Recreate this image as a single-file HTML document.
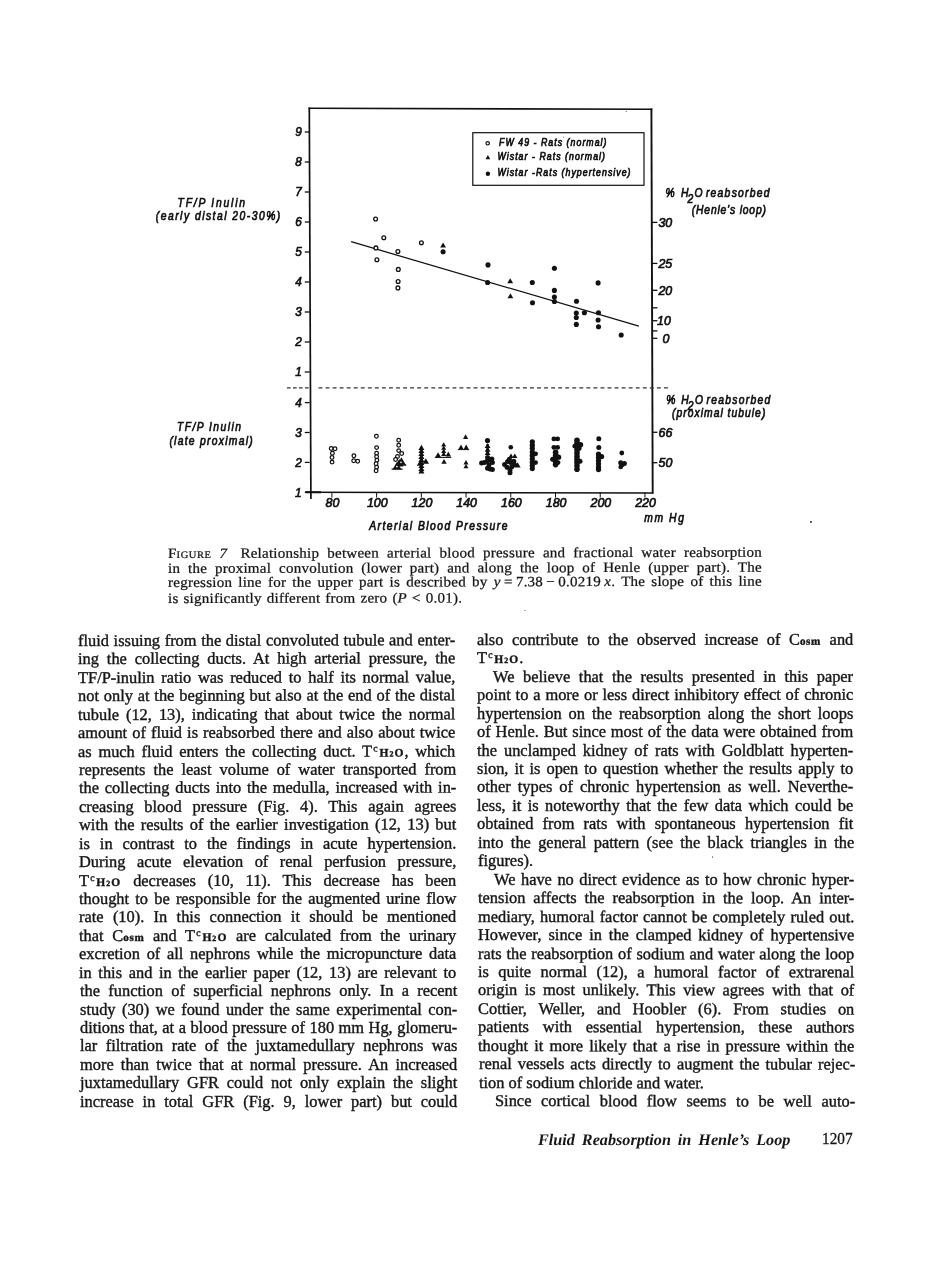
<!DOCTYPE html>
<html lang="en"><head><meta charset="utf-8"><title>Fluid Reabsorption in Henle’s Loop – page 1207</title>
<style>
html,body{margin:0;padding:0;background:#fff;}
body{width:936px;height:1261px;position:relative;overflow:hidden;color:#161616;font-family:"Liberation Serif",serif;}
#pg{position:absolute;left:0;top:0;width:936px;height:1261px;}
#tx{position:absolute;left:0;top:0;width:936px;height:1261px;}
.l{position:absolute;white-space:nowrap;line-height:0;height:0;transform-origin:0 0;}
.l::before{content:"";display:inline-block;height:0;}
.b{font-size:16.4px;-webkit-text-stroke:0.38px #161616;}
.c{font-size:14.2px;-webkit-text-stroke:0.25px #161616;letter-spacing:0.22px;transform-origin:0 0;}
.f{font-size:16.2px;font-style:italic;font-weight:bold;}
.n{font-size:16.6px;-webkit-text-stroke:0.3px #161616;transform-origin:0 0;}
.su{font-size:0.6em;position:relative;top:-0.52em;margin:0 0.18em 0 0.12em;}
.sc{font-size:0.7em;font-weight:bold;letter-spacing:0.09em;}
.tw{font-size:0.7em;}
.os{font-size:0.68em;font-weight:bold;letter-spacing:0.06em;}
.gp{display:inline-block;width:12.5px;}
.fs{font-size:0.7em;letter-spacing:0.05em;}
.sp{position:absolute;width:1.3px;height:1.3px;border-radius:50%;background:#444;}
.ft text{stroke-width:0.7px;}
</style></head>
<body><div id="pg">
<svg width="936" height="620" viewBox="0 0 936 620" style="position:absolute;left:0;top:0" fill="#111" stroke="#111" font-family="Liberation Sans, sans-serif" font-style="italic">
<g class="ft">
<text transform="translate(301.8 376.3) scale(0.92 1)" font-size="12.8" text-anchor="end" >1</text>
<text transform="translate(301.8 346.3) scale(0.92 1)" font-size="12.8" text-anchor="end" >2</text>
<text transform="translate(301.8 316.3) scale(0.92 1)" font-size="12.8" text-anchor="end" >3</text>
<text transform="translate(301.8 286.3) scale(0.92 1)" font-size="12.8" text-anchor="end" >4</text>
<text transform="translate(301.8 256.3) scale(0.92 1)" font-size="12.8" text-anchor="end" >5</text>
<text transform="translate(301.8 226.3) scale(0.92 1)" font-size="12.8" text-anchor="end" >6</text>
<text transform="translate(301.8 196.3) scale(0.92 1)" font-size="12.8" text-anchor="end" >7</text>
<text transform="translate(301.8 166.3) scale(0.92 1)" font-size="12.8" text-anchor="end" >8</text>
<text transform="translate(301.8 136.3) scale(0.92 1)" font-size="12.8" text-anchor="end" >9</text>
<text transform="translate(301.8 466.70000000000005) scale(0.92 1)" font-size="12.8" text-anchor="end" >2</text>
<text transform="translate(301.8 436.8) scale(0.92 1)" font-size="12.8" text-anchor="end" >3</text>
<text transform="translate(301.8 406.90000000000003) scale(0.92 1)" font-size="12.8" text-anchor="end" >4</text>
<text transform="translate(301.5 496.6) scale(0.92 1)" font-size="12.8" text-anchor="end" >1</text>
<text transform="translate(332.5 507.2) scale(0.97 1)" font-size="12.8" text-anchor="middle" >80</text>
<text transform="translate(377.22 507.2) scale(0.97 1)" font-size="12.8" text-anchor="middle" >100</text>
<text transform="translate(421.94 507.2) scale(0.97 1)" font-size="12.8" text-anchor="middle" >120</text>
<text transform="translate(466.65999999999997 507.2) scale(0.97 1)" font-size="12.8" text-anchor="middle" >140</text>
<text transform="translate(511.38 507.2) scale(0.97 1)" font-size="12.8" text-anchor="middle" >160</text>
<text transform="translate(556.1 507.2) scale(0.97 1)" font-size="12.8" text-anchor="middle" >180</text>
<text transform="translate(600.82 507.2) scale(0.97 1)" font-size="12.8" text-anchor="middle" >200</text>
<text transform="translate(645.54 507.2) scale(0.97 1)" font-size="12.8" text-anchor="middle" >220</text>
<text transform="translate(658.4 226.70000000000002) scale(0.97 1)" font-size="12.8" >30</text>
<text transform="translate(658.4 267.7) scale(0.97 1)" font-size="12.8" >25</text>
<text transform="translate(658.4 294.6) scale(0.97 1)" font-size="12.8" >20</text>
<text transform="translate(657.0 325.0) scale(0.97 1)" font-size="12.8" >10</text>
<text transform="translate(662.6 342.6) scale(0.97 1)" font-size="12.8" >0</text>
<text transform="translate(658.6 436.6) scale(0.97 1)" font-size="12.8" >66</text>
<text transform="translate(658.6 467.0) scale(0.97 1)" font-size="12.8" >50</text>
<text transform="translate(177.6 206.5) scale(0.86 1)" font-size="12" textLength="78.4" lengthAdjust="spacing" >TF/P Inulin</text>
<text transform="translate(155.8 219.8) scale(0.86 1)" font-size="12" textLength="144.8" lengthAdjust="spacing" >(early distal 20-30%)</text>
<text transform="translate(177.1 431.2) scale(0.86 1)" font-size="12" textLength="74.2" lengthAdjust="spacing" >TF/P Inulin</text>
<text transform="translate(169.4 445.4) scale(0.86 1)" font-size="12" textLength="96.9" lengthAdjust="spacing" >(late proximal)</text>
<text transform="translate(665.4 196.9) scale(0.86 1)" font-size="12" textLength="14.0" lengthAdjust="spacing" >%</text>
<text transform="translate(680.9 196.9) scale(0.86 1)" font-size="12" >H</text>
<text transform="translate(687.4 203.4) scale(0.86 1)" font-size="12" >2</text>
<text transform="translate(694.6 196.9) scale(0.86 1)" font-size="12" >O</text>
<text transform="translate(705.9 196.9) scale(0.86 1)" font-size="12" textLength="74.0" lengthAdjust="spacing" >reabsorbed</text>
<text transform="translate(691.8 214.1) scale(0.86 1)" font-size="12" textLength="86.2" lengthAdjust="spacing" >(Henle’s loop)</text>
<text transform="translate(666.3 404.0) scale(0.86 1)" font-size="12" textLength="14.0" lengthAdjust="spacing" >%</text>
<text transform="translate(681.2 404.0) scale(0.86 1)" font-size="12" >H</text>
<text transform="translate(687.8 410.2) scale(0.86 1)" font-size="12" >2</text>
<text transform="translate(695.0 404.0) scale(0.86 1)" font-size="12" >O</text>
<text transform="translate(706.6 404.0) scale(0.86 1)" font-size="12" textLength="74.0" lengthAdjust="spacing" >reabsorbed</text>
<text transform="translate(672.1 416.7) scale(0.86 1)" font-size="12" textLength="108.4" lengthAdjust="spacing" >(proximal tubule)</text>
<text transform="translate(644.2 521.6) scale(0.86 1)" font-size="12" textLength="46.2" lengthAdjust="spacing" >mm Hg</text>
<text transform="translate(369.2 530.4) scale(0.86 1)" font-size="12" textLength="160.8" lengthAdjust="spacing" >Arterial Blood Pressure</text>
<text transform="translate(499.1 146.3) scale(0.86 1)" font-size="10.2" textLength="124.9" lengthAdjust="spacing" >FW 49 - Rats (normal)</text>
<text transform="translate(497.5 159.9) scale(0.86 1)" font-size="10.2" textLength="125.0" lengthAdjust="spacing" >Wistar - Rats (normal)</text>
<text transform="translate(497.5 175.8) scale(0.86 1)" font-size="10.2" textLength="154.7" lengthAdjust="spacing" >Wistar -Rats (hypertensive)</text>
</g>
<line x1="309.3" y1="107.5" x2="310.9" y2="499" stroke-width="1.7" />
<line x1="651.4" y1="108.4" x2="652.7" y2="493.6" stroke-width="1.9" />
<line x1="308.5" y1="108.3" x2="652.3" y2="109.3" stroke-width="1.6" />
<line x1="305.5" y1="492.3" x2="653.4" y2="493.1" stroke-width="1.5" />
<line x1="305.5" y1="492.3" x2="321" y2="492.35" stroke-width="2.0" />
<line x1="287" y1="387.8" x2="310.5" y2="387.8" stroke-width="1.2" stroke-dasharray="3.6 2.4" stroke="#333"/>
<line x1="318.5" y1="387.9" x2="668" y2="387.9" stroke-width="1.3" stroke-dasharray="3.9 3.15" stroke="#333"/>
<line x1="304.8" y1="372" x2="309.6" y2="372" stroke-width="1.3" />
<line x1="304.8" y1="342" x2="309.6" y2="342" stroke-width="1.3" />
<line x1="304.8" y1="312" x2="309.6" y2="312" stroke-width="1.3" />
<line x1="304.8" y1="282" x2="309.6" y2="282" stroke-width="1.3" />
<line x1="304.8" y1="252" x2="309.6" y2="252" stroke-width="1.3" />
<line x1="304.8" y1="222" x2="309.6" y2="222" stroke-width="1.3" />
<line x1="304.8" y1="192" x2="309.6" y2="192" stroke-width="1.3" />
<line x1="304.8" y1="162" x2="309.6" y2="162" stroke-width="1.3" />
<line x1="304.8" y1="132" x2="309.6" y2="132" stroke-width="1.3" />
<line x1="304.8" y1="492.3" x2="309.6" y2="492.3" stroke-width="1.3" />
<line x1="304.8" y1="462.40000000000003" x2="309.6" y2="462.40000000000003" stroke-width="1.3" />
<line x1="304.8" y1="432.5" x2="309.6" y2="432.5" stroke-width="1.3" />
<line x1="304.8" y1="402.6" x2="309.6" y2="402.6" stroke-width="1.3" />
<line x1="331.9" y1="492.4" x2="331.9" y2="497.6" stroke-width="1.0" />
<line x1="376.62" y1="492.4" x2="376.62" y2="497.6" stroke-width="1.0" />
<line x1="421.34" y1="492.4" x2="421.34" y2="497.6" stroke-width="1.0" />
<line x1="466.05999999999995" y1="492.4" x2="466.05999999999995" y2="497.6" stroke-width="1.0" />
<line x1="510.78" y1="492.4" x2="510.78" y2="497.6" stroke-width="1.0" />
<line x1="555.5" y1="492.4" x2="555.5" y2="497.6" stroke-width="1.0" />
<line x1="600.22" y1="492.4" x2="600.22" y2="497.6" stroke-width="1.0" />
<line x1="644.9399999999999" y1="492.4" x2="644.9399999999999" y2="497.6" stroke-width="1.0" />
<line x1="651.9" y1="222.4" x2="657.4" y2="222.4" stroke-width="1.3" />
<line x1="651.9" y1="263.4" x2="657.4" y2="263.4" stroke-width="1.3" />
<line x1="651.9" y1="290.3" x2="657.4" y2="290.3" stroke-width="1.3" />
<line x1="651.9" y1="307.8" x2="657.4" y2="307.8" stroke-width="1.3" />
<line x1="651.9" y1="320.7" x2="657.4" y2="320.7" stroke-width="1.3" />
<line x1="651.9" y1="330.9" x2="657.4" y2="330.9" stroke-width="1.3" />
<line x1="651.9" y1="338.3" x2="657.4" y2="338.3" stroke-width="1.3" />
<line x1="651.9" y1="432.3" x2="657.4" y2="432.3" stroke-width="1.3" />
<line x1="651.9" y1="462.7" x2="657.4" y2="462.7" stroke-width="1.3" />
<rect x="472.8" y="132.7" width="171.2" height="52.6" fill="none" stroke-width="1.2"/>
<circle cx="487.7" cy="143.3" r="1.7" fill="#fff" stroke-width="1.2"/>
<path d="M485.5 159.2L490.3 159.2L487.9 155.0Z" stroke="none"/>
<circle cx="487.9" cy="173.7" r="2.2" stroke="none"/>
<line x1="351.1" y1="241.7" x2="638.9" y2="326.1" stroke-width="1.25" />
<circle cx="375.6" cy="219.0" r="1.9" fill="#fff" stroke-width="1.3"/>
<circle cx="383.8" cy="237.8" r="1.9" fill="#fff" stroke-width="1.3"/>
<circle cx="375.9" cy="247.9" r="1.9" fill="#fff" stroke-width="1.3"/>
<circle cx="376.9" cy="259.8" r="1.9" fill="#fff" stroke-width="1.3"/>
<circle cx="397.9" cy="251.5" r="1.9" fill="#fff" stroke-width="1.3"/>
<circle cx="398.3" cy="269.4" r="1.9" fill="#fff" stroke-width="1.3"/>
<circle cx="398.1" cy="281.5" r="1.9" fill="#fff" stroke-width="1.3"/>
<circle cx="397.9" cy="287.9" r="1.9" fill="#fff" stroke-width="1.3"/>
<circle cx="421.4" cy="242.7" r="1.9" fill="#fff" stroke-width="1.3"/>
<path d="M440.2 247.6L446.0 247.6L443.1 242.5Z" stroke="none"/>
<path d="M507.3 283.3L513.1 283.3L510.2 278.2Z" stroke="none"/>
<path d="M507.5 298.3L513.3 298.3L510.4 293.2Z" stroke="none"/>
<circle cx="443.1" cy="251.8" r="2.55" stroke="none"/>
<circle cx="488.0" cy="264.9" r="2.55" stroke="none"/>
<circle cx="487.6" cy="282.5" r="2.55" stroke="none"/>
<circle cx="532.3" cy="282.5" r="2.55" stroke="none"/>
<circle cx="532.5" cy="302.7" r="2.55" stroke="none"/>
<circle cx="554.4" cy="268.3" r="2.55" stroke="none"/>
<circle cx="554.4" cy="290.4" r="2.55" stroke="none"/>
<circle cx="554.4" cy="297.1" r="2.55" stroke="none"/>
<circle cx="554.4" cy="301.5" r="2.55" stroke="none"/>
<circle cx="576.5" cy="301.3" r="2.55" stroke="none"/>
<circle cx="576.3" cy="313.1" r="2.55" stroke="none"/>
<circle cx="576.3" cy="317.5" r="2.55" stroke="none"/>
<circle cx="576.3" cy="324.4" r="2.55" stroke="none"/>
<circle cx="584.4" cy="312.7" r="2.55" stroke="none"/>
<circle cx="598.1" cy="282.9" r="2.55" stroke="none"/>
<circle cx="598.5" cy="312.7" r="2.55" stroke="none"/>
<circle cx="598.1" cy="320.0" r="2.55" stroke="none"/>
<circle cx="598.5" cy="326.7" r="2.55" stroke="none"/>
<circle cx="621.2" cy="335.0" r="2.55" stroke="none"/>
<circle cx="331.2" cy="448.5" r="1.85" fill="#fff" stroke-width="1.25"/>
<circle cx="335.0" cy="448.7" r="1.85" fill="#fff" stroke-width="1.25"/>
<circle cx="332.4" cy="453.3" r="1.85" fill="#fff" stroke-width="1.25"/>
<circle cx="332.0" cy="457.4" r="1.85" fill="#fff" stroke-width="1.25"/>
<circle cx="332.1" cy="462.1" r="1.85" fill="#fff" stroke-width="1.25"/>
<circle cx="353.9" cy="455.7" r="1.85" fill="#fff" stroke-width="1.25"/>
<circle cx="353.7" cy="460.8" r="1.85" fill="#fff" stroke-width="1.25"/>
<circle cx="357.7" cy="461.3" r="1.85" fill="#fff" stroke-width="1.25"/>
<circle cx="376.4" cy="436.3" r="1.85" fill="#fff" stroke-width="1.25"/>
<circle cx="376.6" cy="447.6" r="1.85" fill="#fff" stroke-width="1.25"/>
<circle cx="376.6" cy="453.3" r="1.85" fill="#fff" stroke-width="1.25"/>
<circle cx="376.6" cy="456.7" r="1.85" fill="#fff" stroke-width="1.25"/>
<circle cx="376.9" cy="460.3" r="1.85" fill="#fff" stroke-width="1.25"/>
<circle cx="376.1" cy="463.7" r="1.85" fill="#fff" stroke-width="1.25"/>
<circle cx="376.6" cy="467.2" r="1.85" fill="#fff" stroke-width="1.25"/>
<circle cx="376.1" cy="470.7" r="1.85" fill="#fff" stroke-width="1.25"/>
<circle cx="398.7" cy="440.3" r="1.85" fill="#fff" stroke-width="1.25"/>
<circle cx="398.7" cy="445.3" r="1.85" fill="#fff" stroke-width="1.25"/>
<circle cx="398.7" cy="450.6" r="1.85" fill="#fff" stroke-width="1.25"/>
<circle cx="401.7" cy="453.5" r="1.85" fill="#fff" stroke-width="1.25"/>
<circle cx="397.5" cy="456.5" r="1.85" fill="#fff" stroke-width="1.25"/>
<circle cx="395.6" cy="459.5" r="1.85" fill="#fff" stroke-width="1.25"/>
<path d="M397.1 464.8L405.7 464.8L401.4 457.3Z" stroke="none"/>
<path d="M392.7 469.3L401.3 469.3L397.0 461.8Z" stroke="none"/>
<path d="M394.9 466.4L403.5 466.4L399.2 458.9Z" stroke="none"/>
<path d="M391.6 469.2H402.6M396.4 465.0H406.2" stroke-width="1.3"/>
<circle cx="401.0" cy="462.3" r="0.85" fill="#fff" stroke="none"/>
<circle cx="396.9" cy="466.6" r="0.85" fill="#fff" stroke="none"/>
<path d="M418.4 450.0L424.4 450.0L421.4 444.8Z" stroke="none"/>
<path d="M418.4 453.0L424.4 453.0L421.4 447.8Z" stroke="none"/>
<path d="M418.4 456.0L424.4 456.0L421.4 450.8Z" stroke="none"/>
<path d="M418.4 459.0L424.4 459.0L421.4 453.8Z" stroke="none"/>
<path d="M418.4 462.0L424.4 462.0L421.4 456.8Z" stroke="none"/>
<path d="M418.4 465.0L424.4 465.0L421.4 459.8Z" stroke="none"/>
<path d="M418.4 468.0L424.4 468.0L421.4 462.8Z" stroke="none"/>
<path d="M418.4 471.0L424.4 471.0L421.4 465.8Z" stroke="none"/>
<path d="M418.4 473.4L424.4 473.4L421.4 468.1Z" stroke="none"/>
<path d="M422.6 463.8L429.0 463.8L425.8 458.2Z" stroke="none"/>
<path d="M416.8 465.8L422.4 465.8L419.6 460.9Z" stroke="none"/>
<path d="M441.2 446.6L446.2 446.6L443.7 442.2Z" stroke="none"/>
<path d="M441.2 449.8L446.2 449.8L443.7 445.4Z" stroke="none"/>
<path d="M441.2 453.0L446.2 453.0L443.7 448.6Z" stroke="none"/>
<path d="M441.2 456.0L446.2 456.0L443.7 451.6Z" stroke="none"/>
<path d="M435.2 457.3L441.0 457.3L438.1 452.2Z" stroke="none"/>
<path d="M445.6 456.4L451.0 456.4L448.3 451.6Z" stroke="none"/>
<path d="M441.3 463.8L446.7 463.8L444.0 459.0Z" stroke="none"/>
<path d="M434.8 457.4H451.2" stroke-width="1.1"/>
<path d="M463.0 438.9L468.2 438.9L465.6 434.3Z" stroke="none"/>
<path d="M458.3 449.4L463.7 449.4L461.0 444.6Z" stroke="none"/>
<path d="M463.5 449.4L468.9 449.4L466.2 444.6Z" stroke="none"/>
<path d="M463.5 464.4L468.5 464.4L466.0 460.0Z" stroke="none"/>
<path d="M463.5 468.3L468.5 468.3L466.0 463.9Z" stroke="none"/>
<path d="M457.8 449.6H469.2" stroke-width="1.0"/>
<circle cx="487.5" cy="440.5" r="2.6" stroke="none"/>
<path d="M484.7 448.1L490.5 448.1L487.6 443.0Z" stroke="none"/>
<path d="M484.7 451.7L490.5 451.7L487.6 446.6Z" stroke="none"/>
<path d="M484.7 455.1L490.5 455.1L487.6 450.0Z" stroke="none"/>
<path d="M487.6 444V455" stroke-width="2.2"/>
<circle cx="481.6" cy="462.9" r="2.5" stroke="none"/>
<circle cx="484.4" cy="462.4" r="2.5" stroke="none"/>
<circle cx="487.0" cy="461.3" r="2.5" stroke="none"/>
<circle cx="489.6" cy="459.6" r="2.5" stroke="none"/>
<circle cx="491.9" cy="458.9" r="2.5" stroke="none"/>
<circle cx="492.4" cy="462.6" r="2.5" stroke="none"/>
<circle cx="489.0" cy="464.8" r="2.5" stroke="none"/>
<circle cx="487.5" cy="468.3" r="2.5" stroke="none"/>
<circle cx="490.0" cy="468.9" r="2.5" stroke="none"/>
<circle cx="492.4" cy="469.5" r="2.5" stroke="none"/>
<circle cx="487.6" cy="457.4" r="2.5" stroke="none"/>
<circle cx="510.8" cy="447.2" r="2.3" stroke="none"/>
<path d="M508.4 458.1L513.6 458.1L511.0 453.5Z" stroke="none"/>
<path d="M512.2 458.1L517.4 458.1L514.8 453.5Z" stroke="none"/>
<path d="M514.6 467.6L520.6 467.6L517.6 462.3Z" stroke="none"/>
<circle cx="504.6" cy="464.6" r="2.5" stroke="none"/>
<circle cx="507.6" cy="461.6" r="2.5" stroke="none"/>
<circle cx="510.8" cy="462.6" r="2.5" stroke="none"/>
<circle cx="513.8" cy="461.2" r="2.5" stroke="none"/>
<circle cx="507.0" cy="467.2" r="2.5" stroke="none"/>
<circle cx="511.8" cy="466.8" r="2.5" stroke="none"/>
<circle cx="514.6" cy="464.8" r="2.5" stroke="none"/>
<circle cx="510.0" cy="470.0" r="2.5" stroke="none"/>
<circle cx="510.0" cy="472.8" r="2.5" stroke="none"/>
<circle cx="509.4" cy="459.2" r="2.5" stroke="none"/>
<circle cx="532.3" cy="441.8" r="2.6" stroke="none"/>
<circle cx="532.3" cy="445.2" r="2.6" stroke="none"/>
<circle cx="532.3" cy="448.6" r="2.6" stroke="none"/>
<circle cx="532.3" cy="452.0" r="2.6" stroke="none"/>
<circle cx="532.3" cy="455.4" r="2.6" stroke="none"/>
<circle cx="532.3" cy="458.8" r="2.6" stroke="none"/>
<circle cx="532.3" cy="462.2" r="2.6" stroke="none"/>
<circle cx="532.3" cy="465.6" r="2.6" stroke="none"/>
<circle cx="532.3" cy="468.6" r="2.6" stroke="none"/>
<circle cx="535.6" cy="453.8" r="2.4" stroke="none"/>
<circle cx="535.6" cy="462.6" r="2.4" stroke="none"/>
<circle cx="553.9" cy="438.9" r="2.45" stroke="none"/>
<circle cx="557.6" cy="438.9" r="2.45" stroke="none"/>
<circle cx="553.9" cy="447.4" r="2.45" stroke="none"/>
<circle cx="557.6" cy="447.4" r="2.45" stroke="none"/>
<circle cx="555.6" cy="452.2" r="2.8" stroke="none"/>
<circle cx="555.6" cy="455.4" r="2.8" stroke="none"/>
<circle cx="555.6" cy="458.6" r="2.8" stroke="none"/>
<circle cx="555.6" cy="461.8" r="2.8" stroke="none"/>
<circle cx="555.6" cy="464.6" r="2.8" stroke="none"/>
<circle cx="558.6" cy="457.2" r="2.6" stroke="none"/>
<circle cx="552.6" cy="459.2" r="2.5" stroke="none"/>
<circle cx="558.0" cy="462.6" r="2.4" stroke="none"/>
<circle cx="577.0" cy="440.2" r="2.8" stroke="none"/>
<circle cx="577.0" cy="443.4" r="2.8" stroke="none"/>
<circle cx="577.0" cy="446.6" r="2.8" stroke="none"/>
<circle cx="577.0" cy="449.8" r="2.8" stroke="none"/>
<circle cx="577.0" cy="453.0" r="2.8" stroke="none"/>
<circle cx="577.0" cy="456.2" r="2.8" stroke="none"/>
<circle cx="577.0" cy="459.4" r="2.8" stroke="none"/>
<circle cx="577.0" cy="462.6" r="2.8" stroke="none"/>
<circle cx="577.0" cy="465.8" r="2.8" stroke="none"/>
<circle cx="577.0" cy="469.2" r="2.8" stroke="none"/>
<circle cx="580.4" cy="444.8" r="2.8" stroke="none"/>
<circle cx="574.8" cy="446.2" r="2.4" stroke="none"/>
<circle cx="580.0" cy="461.2" r="2.5" stroke="none"/>
<circle cx="579.2" cy="448.6" r="2.4" stroke="none"/>
<circle cx="598.8" cy="438.7" r="2.5" stroke="none"/>
<circle cx="598.8" cy="447.6" r="2.5" stroke="none"/>
<circle cx="598.5" cy="454.2" r="2.6" stroke="none"/>
<circle cx="598.5" cy="457.4" r="2.6" stroke="none"/>
<circle cx="598.5" cy="460.6" r="2.6" stroke="none"/>
<circle cx="598.5" cy="463.8" r="2.6" stroke="none"/>
<circle cx="598.5" cy="467.0" r="2.6" stroke="none"/>
<circle cx="598.5" cy="469.6" r="2.6" stroke="none"/>
<circle cx="601.6" cy="456.6" r="2.6" stroke="none"/>
<circle cx="621.8" cy="453.0" r="2.4" stroke="none"/>
<circle cx="620.7" cy="462.8" r="2.5" stroke="none"/>
<circle cx="624.4" cy="463.4" r="2.5" stroke="none"/>
<circle cx="620.7" cy="467.0" r="2.3" stroke="none"/>
<circle cx="622.4" cy="464.8" r="2.4" stroke="none"/>
<circle cx="626.2" cy="111.3" r="0.6" stroke="none" fill="#555"/>
<circle cx="563.4" cy="137.1" r="0.5" stroke="none" fill="#444"/>
</svg>
<div class="sp" style="left:810.4px;top:521.3px"></div><div class="sp" style="left:524.4px;top:610px;opacity:.5"></div><div class="sp" style="left:712px;top:856.4px;opacity:.7"></div>
<div id="tx">
<div class="l b" style="left:78.00px;top:641.01px;word-spacing:0.545px;transform:skewY(-0.1203deg);">fluid issuing from the distal convoluted tubule and enter-</div>
<div class="l b" style="left:78.08px;top:659.44px;word-spacing:3.807px;transform:skewY(-0.1155deg);">ing the collecting ducts. At high arterial pressure, the</div>
<div class="l b" style="left:78.16px;top:677.86px;word-spacing:2.610px;transform:skewY(-0.1107deg);">TF/P-inulin ratio was reduced to half its normal value,</div>
<div class="l b" style="left:78.24px;top:696.29px;word-spacing:0.715px;transform:skewY(-0.1059deg);">not only at the beginning but also at the end of the distal</div>
<div class="l b" style="left:78.32px;top:714.71px;word-spacing:2.895px;transform:skewY(-0.1011deg);">tubule (12, 13), indicating that about twice the normal</div>
<div class="l b" style="left:78.40px;top:733.13px;word-spacing:1.007px;transform:skewY(-0.0963deg);">amount of fluid is reabsorbed there and also about twice</div>
<div class="l b" style="left:78.47px;top:751.56px;word-spacing:2.651px;transform:skewY(-0.0914deg);">as much fluid enters the collecting duct. T<span class="su">c</span><span class="sc">H<span class="tw">2</span>O</span>, which</div>
<div class="l b" style="left:78.55px;top:769.98px;word-spacing:3.900px;transform:skewY(-0.0866deg);">represents the least volume of water transported from</div>
<div class="l b" style="left:78.63px;top:788.41px;word-spacing:1.702px;transform:skewY(-0.0818deg);">the collecting ducts into the medulla, increased with in-</div>
<div class="l b" style="left:78.71px;top:806.83px;word-spacing:6.670px;transform:skewY(-0.0770deg);">creasing blood pressure (Fig. 4). This again agrees</div>
<div class="l b" style="left:78.79px;top:825.25px;word-spacing:2.169px;transform:skewY(-0.0722deg);">with the results of the earlier investigation (12, 13) but</div>
<div class="l b" style="left:78.87px;top:843.68px;word-spacing:5.795px;transform:skewY(-0.0674deg);">is in contrast to the findings in acute hypertension.</div>
<div class="l b" style="left:78.95px;top:862.10px;word-spacing:7.433px;transform:skewY(-0.0626deg);">During acute elevation of renal perfusion pressure,</div>
<div class="l b" style="left:79.03px;top:880.53px;word-spacing:7.742px;transform:skewY(-0.0578deg);">T<span class="su">c</span><span class="sc">H<span class="tw">2</span>O</span> decreases (10, 11). This decrease has been</div>
<div class="l b" style="left:79.11px;top:898.95px;word-spacing:2.098px;transform:skewY(-0.0529deg);">thought to be responsible for the augmented urine flow</div>
<div class="l b" style="left:79.19px;top:917.38px;word-spacing:5.227px;transform:skewY(-0.0481deg);">rate (10). In this connection it should be mentioned</div>
<div class="l b" style="left:79.27px;top:935.80px;word-spacing:4.559px;transform:skewY(-0.0433deg);">that C<span class="os">osm</span> and T<span class="su">c</span><span class="sc">H<span class="tw">2</span>O</span> are calculated from the urinary</div>
<div class="l b" style="left:79.35px;top:954.22px;word-spacing:2.599px;transform:skewY(-0.0385deg);">excretion of all nephrons while the micropuncture data</div>
<div class="l b" style="left:79.43px;top:972.65px;word-spacing:2.524px;transform:skewY(-0.0337deg);">in this and in the earlier paper (12, 13) are relevant to</div>
<div class="l b" style="left:79.50px;top:991.07px;word-spacing:4.227px;transform:skewY(-0.0289deg);">the function of superficial nephrons only. In a recent</div>
<div class="l b" style="left:79.58px;top:1009.50px;word-spacing:2.329px;transform:skewY(-0.0241deg);">study (30) we found under the same experimental con-</div>
<div class="l b" style="left:79.66px;top:1027.92px;word-spacing:0.402px;transform:skewY(-0.0193deg);">ditions that, at a blood pressure of 180 mm Hg, glomeru-</div>
<div class="l b" style="left:79.74px;top:1046.34px;word-spacing:4.418px;transform:skewY(-0.0144deg);">lar filtration rate of the juxtamedullary nephrons was</div>
<div class="l b" style="left:79.82px;top:1064.77px;word-spacing:3.071px;transform:skewY(-0.0096deg);">more than twice that at normal pressure. An increased</div>
<div class="l b" style="left:79.90px;top:1083.19px;word-spacing:3.757px;transform:skewY(-0.0048deg);">juxtamedullary GFR could not only explain the slight</div>
<div class="l b" style="left:79.98px;top:1101.62px;word-spacing:4.848px;">increase in total GFR (Fig. 9, lower part) but could</div>
<div class="l b" style="left:476.69px;top:639.82px;word-spacing:4.446px;transform:skewY(-0.0458deg);">also contribute to the observed increase of C<span class="os">osm</span> and</div>
<div class="l b" style="left:476.77px;top:658.27px;transform:skewY(-0.0403deg);">T<span class="su">c</span><span class="sc">H<span class="tw">2</span>O</span>.</div>
<div class="l b" style="left:493.05px;top:676.73px;word-spacing:4.440px;transform:skewY(-0.0348deg);">We believe that the results presented in this paper</div>
<div class="l b" style="left:476.93px;top:695.18px;word-spacing:0.793px;transform:skewY(-0.0293deg);">point to a more or less direct inhibitory effect of chronic</div>
<div class="l b" style="left:477.01px;top:713.63px;word-spacing:2.838px;transform:skewY(-0.0238deg);">hypertension on the reabsorption along the short loops</div>
<div class="l b" style="left:477.09px;top:732.09px;word-spacing:0.807px;transform:skewY(-0.0183deg);">of Henle. But since most of the data were obtained from</div>
<div class="l b" style="left:477.17px;top:750.55px;word-spacing:2.842px;transform:skewY(-0.0128deg);">the unclamped kidney of rats with Goldblatt hyperten-</div>
<div class="l b" style="left:477.25px;top:769.00px;word-spacing:1.893px;transform:skewY(-0.0073deg);">sion, it is open to question whether the results apply to</div>
<div class="l b" style="left:477.33px;top:787.46px;word-spacing:2.911px;transform:skewY(-0.0018deg);">other types of chronic hypertension as well. Neverthe-</div>
<div class="l b" style="left:477.41px;top:805.91px;word-spacing:2.352px;transform:skewY(0.0037deg);">less, it is noteworthy that the few data which could be</div>
<div class="l b" style="left:477.49px;top:824.37px;word-spacing:5.055px;transform:skewY(0.0092deg);">obtained from rats with spontaneous hypertension fit</div>
<div class="l b" style="left:477.57px;top:842.82px;word-spacing:3.226px;transform:skewY(0.0147deg);">into the general pattern (see the black triangles in the</div>
<div class="l b" style="left:477.65px;top:861.28px;transform:skewY(0.0202deg);">figures).</div>
<div class="l b" style="left:493.93px;top:879.73px;word-spacing:1.409px;transform:skewY(0.0257deg);">We have no direct evidence as to how chronic hyper-</div>
<div class="l b" style="left:477.81px;top:898.19px;word-spacing:3.817px;transform:skewY(0.0312deg);">tension affects the reabsorption in the loop. An inter-</div>
<div class="l b" style="left:477.88px;top:916.64px;word-spacing:1.047px;transform:skewY(0.0367deg);">mediary, humoral factor cannot be completely ruled out.</div>
<div class="l b" style="left:477.96px;top:935.10px;word-spacing:2.873px;transform:skewY(0.0422deg);">However, since in the clamped kidney of hypertensive</div>
<div class="l b" style="left:478.04px;top:953.55px;word-spacing:0.693px;transform:skewY(0.0477deg);">rats the reabsorption of sodium and water along the loop</div>
<div class="l b" style="left:478.12px;top:972.00px;word-spacing:5.336px;transform:skewY(0.0532deg);">is quite normal (12), a humoral factor of extrarenal</div>
<div class="l b" style="left:478.20px;top:990.46px;word-spacing:3.419px;transform:skewY(0.0587deg);">origin is most unlikely. This view agrees with that of</div>
<div class="l b" style="left:478.28px;top:1008.91px;word-spacing:7.744px;transform:skewY(0.0642deg);">Cottier, Weller, and Hoobler (6). From studies on</div>
<div class="l b" style="left:478.36px;top:1027.37px;word-spacing:9.710px;transform:skewY(0.0697deg);">patients with essential hypertension, these authors</div>
<div class="l b" style="left:478.44px;top:1045.83px;word-spacing:2.033px;transform:skewY(0.0752deg);">thought it more likely that a rise in pressure within the</div>
<div class="l b" style="left:478.52px;top:1064.28px;word-spacing:1.981px;transform:skewY(0.0807deg);">renal vessels acts directly to augment the tubular rejec-</div>
<div class="l b" style="left:478.60px;top:1082.73px;transform:skewY(0.0862deg);">tion of sodium chloride and water.</div>
<div class="l b" style="left:494.88px;top:1101.19px;word-spacing:5.526px;transform:skewY(0.0917deg);">Since cortical blood flow seems to be well auto-</div>
<div class="l c" style="left:168.22px;top:552.56px;word-spacing:3.799px;transform:scaleX(1.06) skewY(-0.1275deg);"><span class="fg">F<span class="fs">IGURE</span></span> <i>7</i><span class="gp"></span>Relationship between arterial blood pressure and fractional water reabsorption</div>
<div class="l c" style="left:168.28px;top:567.66px;word-spacing:3.651px;transform:scaleX(1.06) skewY(-0.1275deg);">in the proximal convolution (lower part) and along the loop of Henle (upper part). The</div>
<div class="l c" style="left:168.35px;top:582.46px;word-spacing:2.038px;transform:scaleX(1.06) skewY(-0.1275deg);">regression line for the upper part is described by <i>y</i> = 7.38 − 0.0219 <i>x</i>. The slope of this line</div>
<div class="l c" style="left:168.41px;top:597.56px;word-spacing:0.969px;transform:scaleX(1.06) skewY(-0.1275deg);">is significantly different from zero (<i>P</i> &lt; 0.01).</div>
<div class="l f" style="left:537.64px;top:1139.53px;word-spacing:2.913px;transform:skewY(0.0286deg);">Fluid Reabsorption in Henle’s Loop</div>
<div class="l n" style="left:822.44px;top:1139.40px;transform:scaleX(0.92);">1207</div>
</div>
</div></body></html>
